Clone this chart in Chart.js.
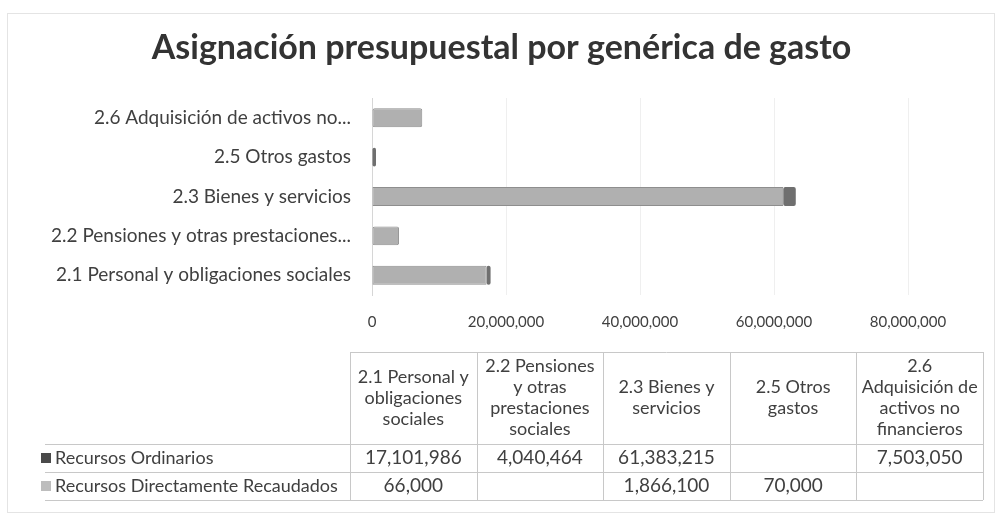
<!DOCTYPE html>
<html>
<head>
<meta charset="utf-8">
<script src="https://cdn.jsdelivr.net/npm/chart.js@4.4.0/dist/chart.umd.min.js"></script>
<style>
  html, body { margin: 0; padding: 0; background: #fff; }
  #wrap { width: 1003px; height: 521px; }
  canvas { display: block; }
</style>
</head>
<body>
<div id="wrap"><canvas id="chart" width="1003" height="521"></canvas></div>
<script>
// datos
const categories = [
    '2.1 Personal y obligaciones sociales',
    '2.2 Pensiones y otras prestaciones sociales',
    '2.3 Bienes y servicios',
    '2.5 Otros gastos',
    '2.6 Adquisición de activos no financieros'
];
const seriesNames = ['Recursos Ordinarios', 'Recursos Directamente Recaudados'];
const recursosOrdinarios = [17101986, 4040464, 61383215, null, 7503050];
const recursosRecaudados = [66000, null, 1866100, 70000, null];
const xTickValues = [0, 20000000, 40000000, 60000000, 80000000];
const chartTitle = 'Asignación presupuestal por genérica de gasto';

const FONT = 'Lato, "Open Sans", sans-serif';
const TEXT = '#404040';
const barColors = ['#b0b0b0', '#6f6f6f'];
const keyColors = ['#4a4a4a', '#bdbdbd'];

function shortLabel(s) {
    if (s.length <= 36) return s;
    const words = s.split(' ');
    let out = '';
    for (const w of words) {
        const next = out ? out + ' ' + w : w;
        if (next.length > 34) break;
        out = next;
    }
    return out + '...';
}

function fmt(v) {
    return v.toLocaleString('en-US');
}

function wrapText(ctx, text, maxW) {
    const words = text.split(' ');
    const lines = [];
    let line = '';
    words.forEach(w => {
        const test = line ? line + ' ' + w : w;
        if (ctx.measureText(test).width > maxW && line) {
            lines.push(line);
            line = w;
        } else {
            line = test;
        }
    });
    if (line) lines.push(line);
    return lines;
}

// marco y titulo
const framePlugin = {
    id: 'frame',
    beforeDraw(chart) {
        const ctx = chart.ctx;
        ctx.save();
        ctx.fillStyle = '#fff';
        ctx.fillRect(0, 0, chart.width, chart.height);
        ctx.strokeStyle = '#e4e4e4';
        ctx.lineWidth = 1;
        ctx.strokeRect(7.5, 13.5, chart.width - 16, chart.height - 22);
        ctx.fillStyle = '#333333';
        ctx.font = 'bold 34px ' + FONT;
        ctx.textAlign = 'center';
        ctx.textBaseline = 'middle';
        ctx.fillText(chartTitle, chart.width / 2, 48);
        ctx.restore();
    }
};

// tabla de datos debajo del grafico
const dataTablePlugin = {
    id: 'dataTable',
    afterDraw(chart) {
        const ctx = chart.ctx;
        const left = 350, right = 983, top = 352, headBottom = 444, rowH = 28, legLeft = 45;
        const colW = (right - left) / categories.length;
        const series = [recursosOrdinarios, recursosRecaudados];

        ctx.save();
        ctx.strokeStyle = '#c8c8c8';
        ctx.lineWidth = 1;
        ctx.beginPath();
        ctx.moveTo(left, top + 0.5); ctx.lineTo(right, top + 0.5);
        for (let r = 0; r <= 2; r++) {
            const y = Math.round(headBottom + r * rowH) + 0.5;
            ctx.moveTo(legLeft, y); ctx.lineTo(right, y);
        }
        for (let c = 0; c <= categories.length; c++) {
            const x = Math.round(left + c * colW) + 0.5;
            ctx.moveTo(x, top); ctx.lineTo(x, headBottom + 2 * rowH);
        }
        ctx.stroke();

        ctx.fillStyle = TEXT;
        ctx.font = '18px ' + FONT;
        ctx.textAlign = 'center';
        ctx.textBaseline = 'middle';
        const lh = 21;
        categories.forEach((cat, i) => {
            const cx = left + colW * (i + 0.5);
            const lines = wrapText(ctx, cat, colW - 6);
            const y0 = (top + headBottom) / 2 - (lines.length - 1) * lh / 2;
            lines.forEach((ln, k) => ctx.fillText(ln, cx, y0 + k * lh));
        });

        ctx.font = '19px ' + FONT;
        series.forEach((vals, r) => {
            const cy = headBottom + rowH * (r + 0.5);
            ctx.textAlign = 'center';
            ctx.fillStyle = TEXT;
            vals.forEach((v, i) => {
                if (v === null) return;
                ctx.fillText(fmt(v), left + colW * (i + 0.5), cy);
            });
            ctx.fillStyle = keyColors[r];
            ctx.fillRect(legLeft - 4, cy - 5, 10, 10);
            ctx.fillStyle = TEXT;
            ctx.textAlign = 'left';
            ctx.font = '18px ' + FONT;
            ctx.fillText(seriesNames[r], legLeft + 10, cy);
            ctx.font = '19px ' + FONT;
        });
        ctx.restore();
    }
};

const ctx = document.getElementById('chart').getContext('2d');
new Chart(ctx, {
    type: 'bar',
    data: {
        labels: categories,
        datasets: [
            {
                label: seriesNames[0],
                data: recursosOrdinarios,
                backgroundColor: barColors[0],
                borderColor: '#8e8e8e',
                borderWidth: 1,
                borderRadius: 2,
                borderSkipped: false
            },
            {
                label: seriesNames[1],
                data: recursosRecaudados,
                backgroundColor: barColors[1],
                borderWidth: 0,
                borderRadius: 2,
                borderSkipped: false,
                minBarLength: 4
            }
        ]
    },
    options: {
        indexAxis: 'y',
        responsive: false,
        devicePixelRatio: 1,
        animation: false,
        datasets: { bar: { barPercentage: 0.48, categoryPercentage: 1 } },
        layout: { padding: { top: 98, left: 0, right: 95, bottom: 181 } },
        plugins: {
            legend: { display: false },
            tooltip: { enabled: false },
            title: { display: false }
        },
        scales: {
            x: {
                stacked: true,
                min: 0,
                max: 80000000,
                afterBuildTicks: scale => { scale.ticks = xTickValues.map(v => ({ value: v })); },
                afterFit: scale => { scale.height = 45; },
                ticks: {
                    color: TEXT,
                    font: { family: FONT, size: 15 },
                    padding: 18,
                    maxRotation: 0,
                    callback: v => fmt(v)
                },
                grid: { color: '#efefef', drawTicks: false },
                border: { display: false }
            },
            y: {
                stacked: true,
                reverse: true,
                afterFit: scale => { scale.width = 372; },
                ticks: {
                    color: TEXT,
                    font: { family: FONT, size: 19 },
                    padding: 21,
                    callback: function(v) { return shortLabel(this.getLabelForValue(v)); }
                },
                grid: { display: false, drawTicks: false },
                border: { color: '#d6d6d6' }
            }
        }
    },
    plugins: [framePlugin, dataTablePlugin]
});
</script>
</body>
</html>
